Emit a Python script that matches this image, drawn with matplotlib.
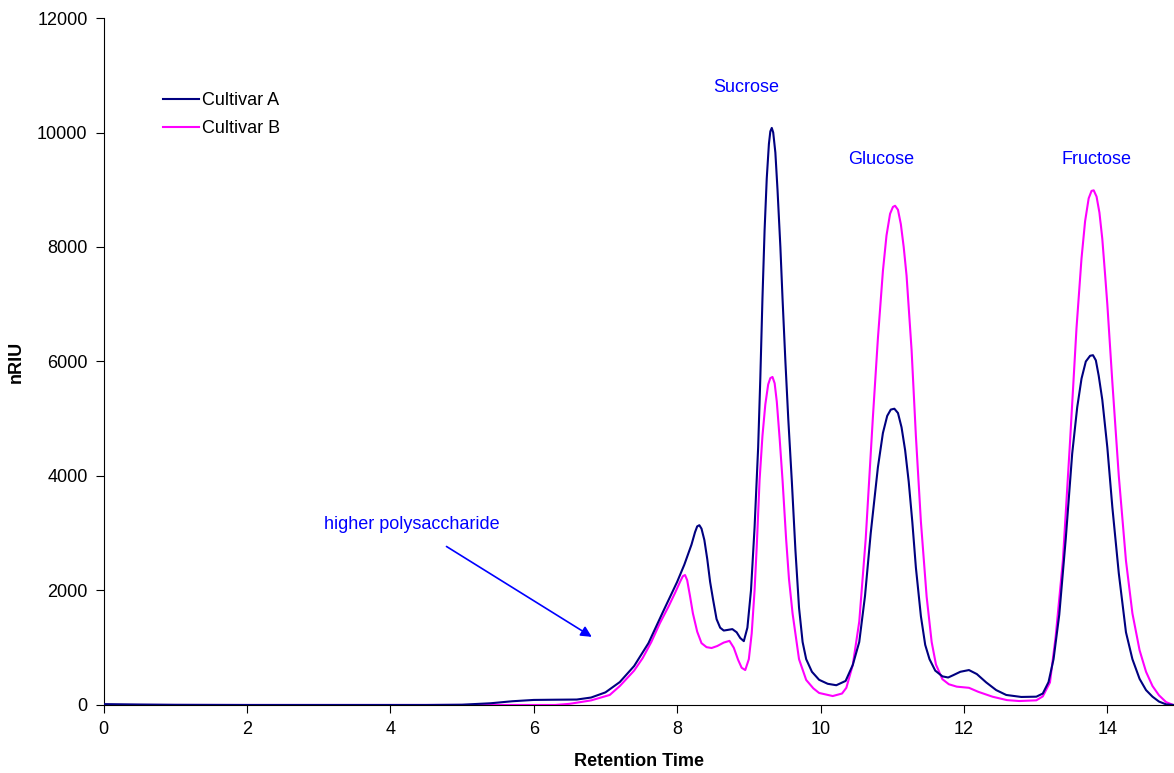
import matplotlib.pyplot as plt

plt.rcParams['font.family'] = ['Liberation Sans', 'DejaVu Sans']

# 保留时间 (min) 与检测器响应 (nRIU)
time_a = [0, 0.5, 1.0, 2.0, 4.5, 5.0, 5.4, 5.7, 6.0, 6.3, 6.6, 6.8, 7.0, 7.2, 7.4,
          7.6, 7.8, 8.0, 8.1, 8.2, 8.25, 8.28, 8.31, 8.34, 8.38, 8.42, 8.46, 8.5, 8.55,
          8.6, 8.65, 8.7, 8.77, 8.83, 8.88, 8.93, 8.98, 9.03, 9.08, 9.13, 9.16, 9.19,
          9.22, 9.25, 9.28, 9.30, 9.32, 9.34, 9.37, 9.40, 9.44, 9.47, 9.51, 9.55, 9.60,
          9.65, 9.70, 9.75, 9.80, 9.88, 9.98, 10.1, 10.22, 10.35, 10.45, 10.54, 10.62,
          10.7, 10.8, 10.87, 10.93, 10.98, 11.03, 11.08, 11.13, 11.18, 11.23, 11.28,
          11.33, 11.4, 11.46, 11.52, 11.6, 11.7, 11.78, 11.85, 11.95, 12.07, 12.18,
          12.31, 12.45, 12.59, 12.8, 13.01, 13.1, 13.18, 13.25, 13.33, 13.42, 13.51,
          13.58, 13.64, 13.70, 13.76, 13.80, 13.84, 13.88, 13.93, 14.0, 14.07, 14.16,
          14.26, 14.35, 14.45, 14.54, 14.63, 14.72, 14.82, 14.93]
nriu_a = [15, 8, 3, 0, 0, 5, 30, 65, 88, 92, 95, 130, 220, 400, 680,
          1080, 1620, 2150, 2450, 2800, 3020, 3120, 3140, 3080, 2880, 2550, 2150, 1850, 1500,
          1350, 1300, 1310, 1325, 1270, 1170, 1115, 1350, 2000, 3100, 4500, 5700, 7100,
          8300, 9200, 9800, 10020, 10080, 10000, 9650, 9000, 8000, 7100, 6000, 5000, 3900,
          2700, 1700, 1100, 800, 580, 440, 370, 345, 420, 700, 1100, 1900,
          3000, 4150, 4750, 5050, 5160, 5175, 5100, 4850, 4450, 3900, 3200,
          2400, 1550, 1050, 800, 600, 500, 480, 520, 580, 610, 540,
          395, 260, 175, 140, 145, 200, 400, 800, 1580, 2900, 4390,
          5200, 5700, 6000, 6100, 6110, 6020, 5750, 5330, 4500, 3456, 2300,
          1270, 800, 456, 260, 145, 60, 10, 0]

time_b = [0, 6.3, 6.5, 6.8, 7.06, 7.2, 7.4, 7.52, 7.64, 7.76, 7.88, 7.97, 8.04, 8.08,
          8.11, 8.14, 8.18, 8.22, 8.28, 8.34, 8.41, 8.48, 8.56, 8.65, 8.73, 8.79, 8.85,
          8.90, 8.95, 9.0, 9.04, 9.08, 9.11, 9.15, 9.19, 9.23, 9.27, 9.30, 9.33, 9.36,
          9.39, 9.43, 9.47, 9.52, 9.56, 9.61, 9.7, 9.80, 9.9, 9.98, 10.17, 10.3, 10.36,
          10.45, 10.54, 10.63, 10.73, 10.8, 10.87, 10.92, 10.97, 11.01, 11.04, 11.08,
          11.12, 11.16, 11.2, 11.27, 11.33, 11.4, 11.48, 11.55, 11.61, 11.7, 11.79,
          11.9, 12.07, 12.2, 12.4, 12.6, 12.77, 13.01, 13.1, 13.2, 13.28, 13.38, 13.48,
          13.57, 13.64, 13.69, 13.74, 13.78, 13.81, 13.85, 13.89, 13.93, 13.97, 14.0,
          14.07, 14.16, 14.26, 14.35, 14.45, 14.54, 14.63, 14.72, 14.82, 14.92]
nriu_b = [0, 0, 20, 80, 175, 330, 600, 820, 1100, 1430, 1720, 1955, 2150, 2250,
          2270, 2180, 1900, 1600, 1280, 1080, 1010, 995, 1030, 1090, 1120, 1000, 790,
          650, 610, 800, 1250, 2000, 2760, 3930, 4700, 5250, 5600, 5710, 5730, 5620,
          5300, 4650, 3930, 2900, 2200, 1600, 800, 437, 290, 210, 156, 200, 300,
          700, 1456, 2900, 5020, 6400, 7580, 8200, 8580, 8700, 8720, 8650,
          8400, 8000, 7500, 6200, 4700, 3200, 1890, 1100, 706, 450, 362,
          320, 300, 230, 144, 85, 69, 81, 150, 394, 1200, 2520, 4600,
          6580, 7800, 8450, 8850, 8980, 8990, 8880, 8600, 8140, 7500, 7000,
          5640, 4000, 2520, 1600, 956, 580, 331, 170, 50, 0]

peak_names = ['Sucrose', 'Glucose', 'Fructose']
peak_label_x = [8.97, 10.85, 13.85]
peak_label_y = [10780, 9520, 9520]


def main():
    """主函数"""
    fig = plt.figure(figsize=(11.74, 7.73), dpi=100)
    ax = fig.add_axes([0.0882, 0.088, 0.9118, 0.8887])

    ax.plot(time_b, nriu_b, color='#ff00ff', lw=1.5, label='Cultivar B', zorder=2)
    ax.plot(time_a, nriu_a, color='#000080', lw=1.5, label='Cultivar A', zorder=3)

    # 峰名称
    for name, x, y in zip(peak_names, peak_label_x, peak_label_y):
        ax.text(x, y, name, color='#0000ff', fontsize=13, ha='center', va='center')

    ax.annotate('higher polysaccharide', xy=(6.81, 1190), xytext=(4.3, 3145),
                color='#0000ff', fontsize=13, ha='center', va='center',
                arrowprops=dict(arrowstyle='-|>', color='#0000ff', lw=1.2,
                                mutation_scale=16, shrinkA=14, shrinkB=0))

    ax.set_xlim(0, 14.93)
    ax.set_ylim(0, 12000)
    ax.set_xticks(range(0, 15, 2))
    ax.set_yticks(range(0, 12001, 2000))
    ax.tick_params(labelsize=13, direction='out', length=6, width=0.8, pad=5.5)
    ax.spines['top'].set_visible(False)
    ax.spines['right'].set_visible(False)

    ax.set_xlabel('Retention Time', fontsize=13, fontweight='bold', labelpad=11)
    ax.set_ylabel('nRIU', fontsize=13, fontweight='bold', labelpad=9)

    handles, labels = ax.get_legend_handles_labels()
    ax.legend(handles[::-1], labels[::-1], loc='upper left', bbox_to_anchor=(0.0555, 0.8916),
              borderaxespad=0, borderpad=0, frameon=False, fontsize=13,
              handlelength=2.0, handletextpad=0.18, labelspacing=0.6)

    fig.savefig('out.png', dpi=100)


if __name__ == '__main__':
    main()
